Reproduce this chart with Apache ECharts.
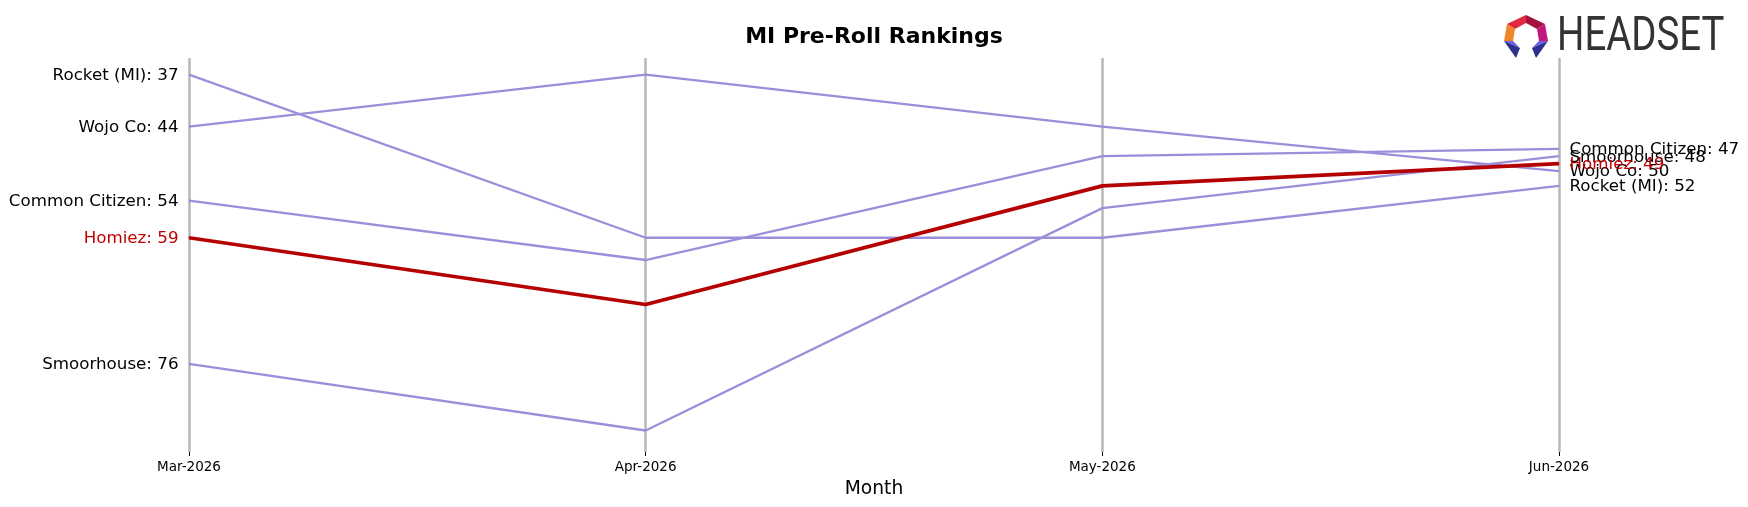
<!DOCTYPE html>
<html>
<head>
<meta charset="utf-8">
<script src="https://cdn.jsdelivr.net/npm/echarts@6/dist/echarts.min.js"></script>
<style>
html,body{margin:0;padding:0;background:#fff;}
#chart{width:1748px;height:507px;}
</style>
</head>
<body>
<div id="chart"></div>
<script>
const months = ['Mar-2026', 'Apr-2026', 'May-2026', 'Jun-2026'];
const brandNames = ['Rocket (MI)', 'Wojo Co', 'Common Citizen', 'Smoorhouse', 'Homiez'];
const rocketRanks = [37, 59, 59, 52];
const wojoRanks = [44, 37, 44, 50];
const commonCitizenRanks = [54, 62, 48, 47];
const smoorhouseRanks = [76, 85, 55, 48];
const homiezRanks = [59, 68, 52, 49];
const highlightBrand = 'Homiez';

const FONT = 'DejaVu Sans';
const PURPLE = '#9b8fda';
const RED = '#b40000';

function makeSeries(name, ranks) {
  const hl = name === highlightBrand;
  const txtColor = hl ? '#c00000' : '#000';
  const data = ranks.map((v, i) => {
    const item = { value: v };
    if (i === 0) {
      item.label = { show: true, position: 'left', distance: 10, offset: [0, 1],
        formatter: name + ': ' + v, color: txtColor, fontSize: 16.7, fontFamily: FONT };
    } else if (i === ranks.length - 1) {
      item.label = { show: true, position: 'right', distance: 10, offset: [0, 1],
        formatter: name + ': ' + v, color: txtColor, fontSize: 16.7, fontFamily: FONT };
    }
    return item;
  });
  return {
    name: name,
    type: 'line',
    data: data,
    symbol: 'circle',
    symbolSize: 1,
    showSymbol: true,
    z: hl ? 5 : 3,
    lineStyle: { color: hl ? RED : PURPLE, width: hl ? 3.7 : 2.3 },
    itemStyle: { color: hl ? RED : PURPLE },
    emphasis: { disabled: true },
    label: { show: false }
  };
}

const allRanks = [rocketRanks, wojoRanks, commonCitizenRanks, smoorhouseRanks, homiezRanks];
const series = brandNames.map((n, i) => makeSeries(n, allRanks[i]));

const chart = echarts.init(document.getElementById('chart'), null, { renderer: 'canvas' });
chart.setOption({
  animation: false,
  backgroundColor: '#fff',
  title: {
    text: 'MI Pre-Roll Rankings',
    left: 'center',
    top: 26,
    padding: 0,
    textStyle: { fontFamily: FONT, fontSize: 22, fontWeight: 'bold', color: '#000' }
  },
  grid: { left: 189, right: 189, top: 58, bottom: 55 },
  xAxis: {
    type: 'category',
    data: months,
    boundaryGap: false,
    axisLine: { show: false },
    axisTick: { show: true, length: 4, lineStyle: { color: '#000', width: 1 } },
    axisLabel: { fontFamily: FONT, fontSize: 13.5, color: '#000', margin: 8 },
    splitLine: { show: true, lineStyle: { color: '#b8b8b8', width: 2.5 } },
    name: 'Month',
    nameLocation: 'middle',
    nameGap: 28,
    nameTextStyle: { fontFamily: FONT, fontSize: 18.7, color: '#000' }
  },
  yAxis: {
    type: 'value',
    inverse: true,
    min: 34.75,
    max: 87.9,
    show: false,
    splitLine: { show: false }
  },
  series: series,
  graphic: [
    { type: 'polygon', shape: { points: [[1526,15],[1507,24],[1515,29],[1526,23]] }, style: { fill: '#e2283c' } },
    { type: 'polygon', shape: { points: [[1526,15],[1545,24],[1537,29],[1526,23]] }, style: { fill: '#a3123f' } },
    { type: 'polygon', shape: { points: [[1507,24],[1504,41],[1513,41],[1515,29]] }, style: { fill: '#f0842a' } },
    { type: 'polygon', shape: { points: [[1545,24],[1548,41],[1539,41],[1537,29]] }, style: { fill: '#c2187c' } },
    { type: 'polygon', shape: { points: [[1504,41],[1513,41],[1520,48]] }, style: { fill: '#6a63e0' } },
    { type: 'polygon', shape: { points: [[1504,41],[1520,48],[1516,58]] }, style: { fill: '#2e308f' } },
    { type: 'polygon', shape: { points: [[1548,41],[1539,41],[1532,48]] }, style: { fill: '#6a63e0' } },
    { type: 'polygon', shape: { points: [[1548,41],[1532,48],[1536,58]] }, style: { fill: '#2e308f' } },
    { type: 'text', x: 1557, y: 38, scaleX: 0.8, originX: 0, originY: 0,
      style: { text: 'HEADSET', fontFamily: 'Roboto', fontSize: 48, fill: '#333', textVerticalAlign: 'middle', verticalAlign: 'middle' } }
  ]
});
</script>
</body>
</html>
